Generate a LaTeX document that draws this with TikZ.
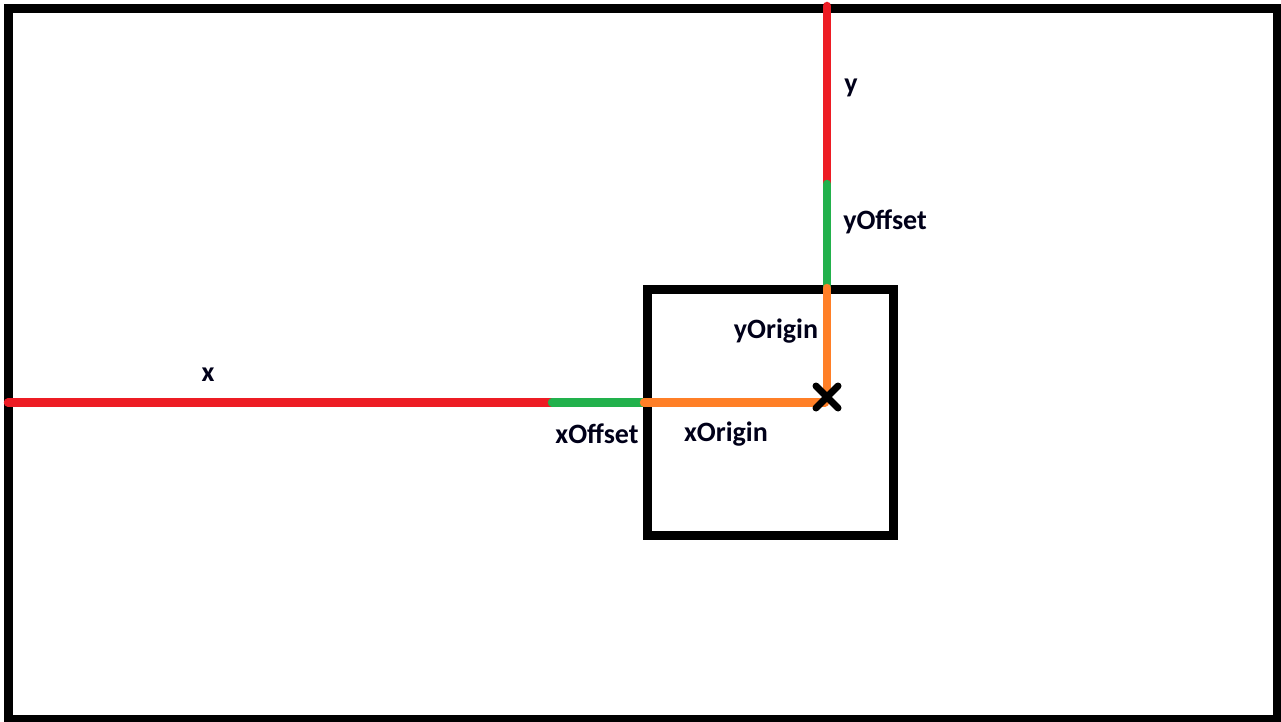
\documentclass[tikz,border=0pt]{standalone}
\usepackage{fontspec}
\setmainfont{Carlito}
\definecolor{pred}{HTML}{ED1C24}
\definecolor{pgreen}{HTML}{22B14C}
\definecolor{porange}{HTML}{FF7F27}
\begin{document}
\begin{tikzpicture}[x=1pt,y=-1pt,
  frame/.style={draw=black,line width=9pt},
  seg/.style={line width=8.5pt,line cap=round},
  lbl/.style={font=\fontsize{28}{31}\selectfont\bfseries,inner sep=0pt,text=black!90!blue},
  cross/.style={line width=7pt,line cap=round,draw=black}]
\useasboundingbox (0,0) rectangle (1281,722);
\fill[white] (0,0) rectangle (1281,722);
% outer frame and inner box
\draw[frame] (8.5,8.5) rectangle (1277,719.5);
\draw[frame] (647.5,289.5) rectangle (893.5,535.5);
% coordinates
\coordinate (ytop) at (827,6);
\coordinate (ysplit) at (827,184);
\coordinate (boxtop) at (827,288);
\coordinate (org) at (827,399);
\coordinate (xleft) at (8,402.5);
\coordinate (xsplit) at (552,402.5);
\coordinate (boxleft) at (644,402.5);
\coordinate (xend) at (825,402.5);
% segments
\draw[seg,pred] (ytop) -- (ysplit);
\draw[seg,pgreen] (ysplit) -- (boxtop);
\draw[seg,porange] (boxtop) -- (org);
\draw[seg,pred] (xleft) -- (xsplit);
\draw[seg,pgreen] (xsplit) -- (boxleft);
\draw[seg,porange] (boxleft) -- (xend);
% cross
\draw[cross] (816,386) -- (838,408);
\draw[cross] (816,408) -- (838,386);
% labels
\node[lbl] (lx) at (208,375) {x};
\node[lbl] (ly) at (851,88) {y};
\node[lbl] (lyoff) at (885,222) {yOffset};
\node[lbl] (lyorg) at (776,331) {yOrigin};
\node[lbl] (lxoff) at (597,434) {xOffset};
\node[lbl] (lxorg) at (726,434) {xOrigin};
\end{tikzpicture}
\end{document}
